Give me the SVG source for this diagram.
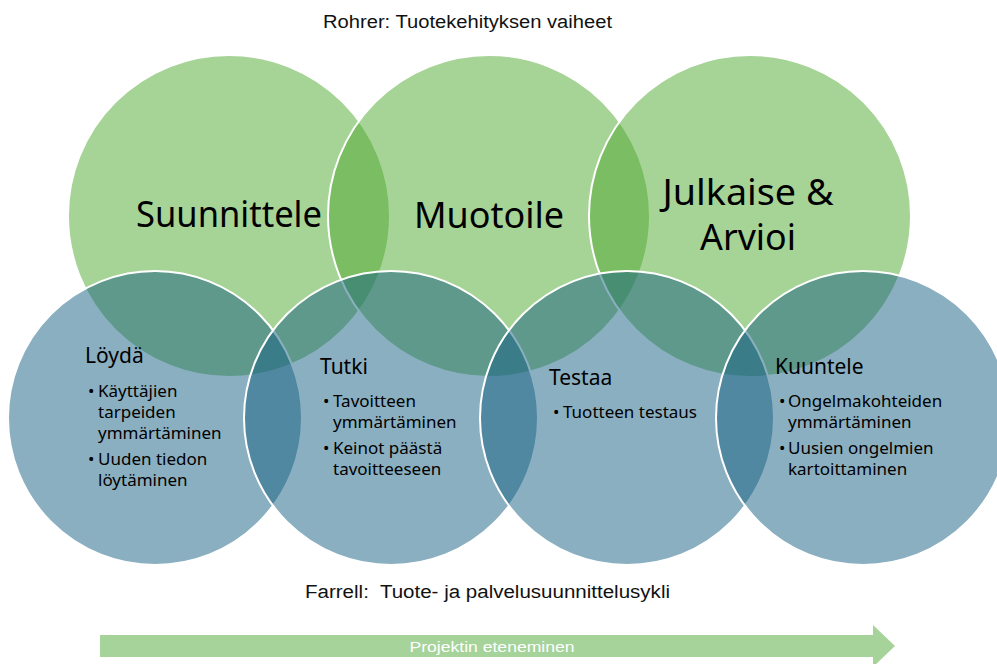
<svg xmlns="http://www.w3.org/2000/svg" width="997" height="664" viewBox="0 0 997 664">
<style>
.g{fill:#4EA72E;fill-opacity:.5;stroke:#fff;stroke-width:2}
.b{fill:#156082;fill-opacity:.5;stroke:#fff;stroke-width:2}
.big{font-family:"Noto Sans",sans-serif;font-size:36px;fill:#000;text-anchor:middle}
.h{font-family:"Noto Sans",sans-serif;font-size:21px;fill:#000}
.t{font-family:"Noto Sans",sans-serif;font-size:17px;fill:#000}
.cap{font-family:"Liberation Sans",Arial,sans-serif;font-size:18px;fill:#111;white-space:pre}
</style>
<rect width="997" height="664" fill="#fff"/>
<text class="cap" x="323" y="28" textLength="289" lengthAdjust="spacingAndGlyphs">Rohrer: Tuotekehityksen vaiheet</text>
<g id="suunnittele">
<circle class="g" cx="229" cy="216" r="161"/>
<text class="big" x="229" y="227" textLength="186" lengthAdjust="spacingAndGlyphs">Suunnittele</text>
</g>
<g id="muotoile">
<circle class="g" cx="489" cy="216" r="161"/>
<text class="big" x="489" y="228" textLength="150" lengthAdjust="spacingAndGlyphs">Muotoile</text>
</g>
<g id="julkaise">
<circle class="g" cx="750" cy="216" r="161"/>
<text class="big" x="748" y="205" textLength="171" lengthAdjust="spacingAndGlyphs">Julkaise &amp;</text>
<text class="big" x="748" y="250" textLength="96" lengthAdjust="spacingAndGlyphs">Arvioi</text>
</g>
<g id="loyda">
<circle class="b" cx="155" cy="418" r="147"/>
<text class="h" x="85" y="363">Löydä</text>
<text class="t" x="88" y="396.5">•</text><text class="t" x="98" y="396.5">Käyttäjien</text>
<text class="t" x="98" y="417.5">tarpeiden</text>
<text class="t" x="98" y="438.5">ymmärtäminen</text>
<text class="t" x="88" y="465">•</text><text class="t" x="98" y="465">Uuden tiedon</text>
<text class="t" x="98" y="486">löytäminen</text>
</g>
<g id="tutki">
<circle class="b" cx="391" cy="418" r="147"/>
<text class="h" x="320" y="374">Tutki</text>
<text class="t" x="323" y="407">•</text><text class="t" x="333" y="407">Tavoitteen</text>
<text class="t" x="333" y="428">ymmärtäminen</text>
<text class="t" x="323" y="454">•</text><text class="t" x="333" y="454">Keinot päästä</text>
<text class="t" x="333" y="475">tavoitteeseen</text>
</g>
<g id="testaa">
<circle class="b" cx="627" cy="418" r="147"/>
<text class="h" x="549" y="385">Testaa</text>
<text class="t" x="553" y="418">•</text><text class="t" x="563" y="418">Tuotteen testaus</text>
</g>
<g id="kuuntele">
<circle class="b" cx="863" cy="418" r="147"/>
<text class="h" x="775" y="374">Kuuntele</text>
<text class="t" x="779" y="407">•</text><text class="t" x="788" y="407">Ongelmakohteiden</text>
<text class="t" x="788" y="428">ymmärtäminen</text>
<text class="t" x="779" y="454">•</text><text class="t" x="788" y="454">Uusien ongelmien</text>
<text class="t" x="788" y="475">kartoittaminen</text>
</g>
<text class="cap" x="305" y="598" textLength="365" lengthAdjust="spacingAndGlyphs">Farrell:  Tuote- ja palvelusuunnittelusykli</text>
<g id="connectors">
<g id="progress-arrow">
<polygon points="100,635 873,635 873,625 895,646 873,667 873,657 100,657" fill="#A6D39A"/>
<text x="492" y="652" font-family="Liberation Sans, Arial, sans-serif" font-size="15" fill="#fff" text-anchor="middle" textLength="165" lengthAdjust="spacingAndGlyphs">Projektin eteneminen</text>
</g>
</g>
</svg>
